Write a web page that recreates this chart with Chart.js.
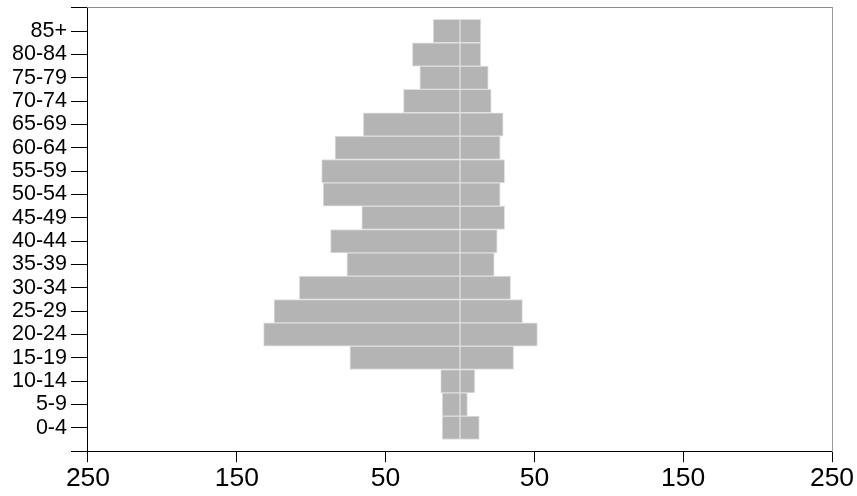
<!DOCTYPE html>
<html>
<head>
<meta charset="utf-8">
<script src="https://cdn.jsdelivr.net/npm/chart.js@4/dist/chart.umd.min.js"></script>
<style>
html,body{margin:0;padding:0;background:#fff;}
#wrap{width:857px;height:496px;}
</style>
</head>
<body>
<div id="wrap"><canvas id="c" width="857" height="496"></canvas></div>
<script>
const ageGroups = ['0-4','5-9','10-14','15-19','20-24','25-29','30-34','35-39','40-44','45-49','50-54','55-59','60-64','65-69','70-74','75-79','80-84','85+'];
const leftValues = [12, 12, 13, 74, 132, 125, 108, 76, 87, 66, 92, 93, 84, 65, 38, 27, 32, 18];
const rightValues = [13, 5, 10, 36, 52, 42, 34, 23, 25, 30, 27, 30, 27, 29, 21, 19, 14, 14];
const xTickValues = [-250, -150, -50, 50, 150, 250];

const labels = [''].concat(ageGroups, ['']);
const leftData = [null].concat(leftValues.map(v => -v), [null]);
const rightData = [null].concat(rightValues, [null]);

const barStyle = {
  backgroundColor: '#b4b4b4',
  borderColor: '#e0e0e0',
  borderWidth: 1,
  borderSkipped: false,
  barPercentage: 1,
  categoryPercentage: 1
};

new Chart(document.getElementById('c'), {
  type: 'bar',
  data: {
    labels: labels,
    datasets: [
      Object.assign({label: 'left', data: leftData}, barStyle),
      Object.assign({label: 'right', data: rightData}, barStyle)
    ]
  },
  options: {
    indexAxis: 'y',
    responsive: false,
    animation: false,
    layout: {padding: {top: 0, right: 25, left: 8, bottom: 0}},
    plugins: {legend: {display: false}, tooltip: {enabled: false}},
    scales: {
      x: {
        type: 'linear',
        stacked: true,
        min: -250,
        max: 250,
        afterBuildTicks: (s) => { s.ticks = xTickValues.map(v => ({value: v})); },
        ticks: {
          callback: (v) => Math.abs(v),
          color: '#000',
          font: {family: 'Liberation Sans, Arial, sans-serif', size: 26.5},
          padding: 1,
          maxRotation: 0,
          autoSkip: false
        },
        grid: {display: true, drawOnChartArea: false, drawTicks: true, tickLength: 11, color: '#000', lineWidth: 1},
        border: {display: true, color: '#000', width: 1}
      },
      y: {
        type: 'category',
        stacked: true,
        reverse: true,
        offset: false,
        ticks: {
          color: '#000',
          font: {family: 'Liberation Sans, Arial, sans-serif', size: 21.5, lineHeight: 0.35},
          padding: 4,
          autoSkip: false
        },
        grid: {display: true, offset: false, drawOnChartArea: false, drawTicks: true, tickLength: 17, color: '#000', lineWidth: 1},
        border: {display: true, color: '#000', width: 1}
      },
      xTop: {
        type: 'linear',
        position: 'top',
        min: -250,
        max: 250,
        ticks: {display: false},
        grid: {display: false, drawTicks: false},
        border: {display: true, color: '#8c8c8c', width: 1}
      },
      yRight: {
        type: 'linear',
        position: 'right',
        min: 0,
        max: 1,
        ticks: {display: false},
        grid: {display: false, drawTicks: false},
        border: {display: true, color: '#9a9a9a', width: 1}
      }
    }
  }
});
</script>
</body>
</html>
